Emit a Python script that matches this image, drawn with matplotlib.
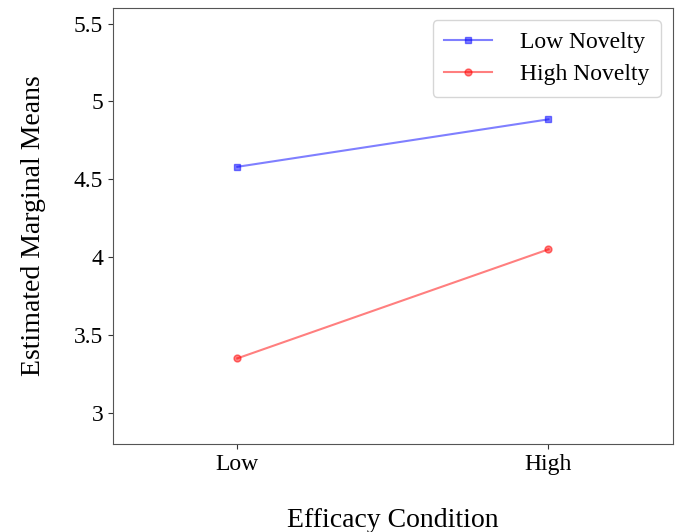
import numpy as np
import matplotlib
matplotlib.use('Agg')
import matplotlib.pyplot as plt

plt.rcParams['font.family'] = ['Liberation Serif', 'DejaVu Serif']

conditions = ['Low', 'High']
low_novelty = [4.58, 4.885]
high_novelty = [3.35, 4.05]
yticks = [3, 3.5, 4, 4.5, 5, 5.5]
ytick_labels = ['3', '3.5', '4', '4.5', '5', '5.5']

fig = plt.figure(figsize=(6.76, 5.32), dpi=100)
ax = fig.add_axes([0.167, 0.1654, 0.8285, 0.8196])

x = np.arange(len(conditions))
ax.plot(x, low_novelty, color='blue', alpha=0.5, marker='s', markersize=5,
        linewidth=1.5, label='Low Novelty')
ax.plot(x, high_novelty, color='red', alpha=0.5, marker='o', markersize=5,
        linewidth=1.5, label='High Novelty')

ax.set_xlim(-0.4, 1.4)
ax.set_ylim(2.8, 5.6)
ax.set_xticks(x)
ax.set_xticklabels(conditions, fontsize=17)
ax.set_yticks(yticks)
ax.set_yticklabels(ytick_labels, fontsize=17)
ax.tick_params(colors='#333333', labelcolor='black')
for s in ax.spines.values():
    s.set_color('#555555')

ax.set_xlabel('Efficacy Condition', fontsize=20, labelpad=24)
ax.set_ylabel('Estimated Marginal Means', fontsize=20, labelpad=20)

ax.legend(loc='upper right', fontsize=17, handlelength=2.0,
          labelspacing=0.45, borderpad=0.5, handletextpad=1.2)

fig.savefig('out.png', dpi=100)
